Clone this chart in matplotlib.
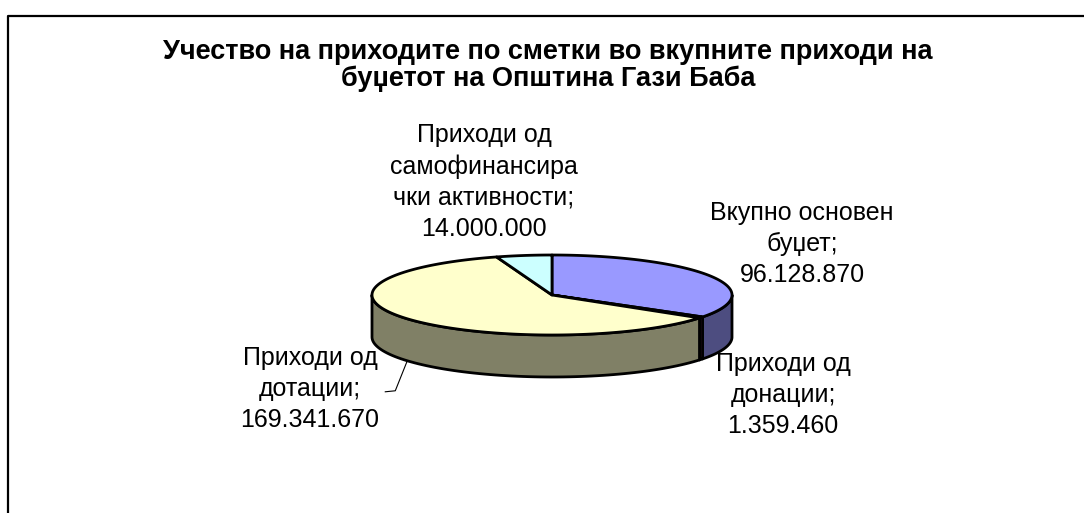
import numpy as np
import matplotlib
matplotlib.use("Agg")
import matplotlib.pyplot as plt
from matplotlib.patches import Polygon
from matplotlib.lines import Line2D

# ---- data ----
categories = ["Вкупно основен\nбуџет", "Приходи од\nдонации", "Приходи од\nдотации",
              "Приходи од\nсамофинансира\nчки активности"]
values = [96128870, 1359460, 169341670, 14000000]
value_labels = ["96.128.870", "1.359.460", "169.341.670", "14.000.000"]
colors = ["#9999FF", "#993366", "#FFFFCC", "#CCFFFF"]
title_lines = ["Учество на приходите по сметки во вкупните приходи на",
               "буџетот на Општина Гази Баба"]

# ---- geometry / style ----
W, H = 1084, 513
cx, cy, a, b, depth = 552, 295, 180, 40, 42
font = "Liberation Sans"
LW = 2.0

fig = plt.figure(figsize=(W / 100, H / 100), dpi=100)
ax = fig.add_axes([0, 0, 1, 1])
ax.set_xlim(0, W)
ax.set_ylim(H, 0)
ax.axis("off")

# frame
ax.add_line(Line2D([8, 8, W + 5], [H + 5, 16, 16], color="black", lw=1.6))


def pt(phi_deg, dz=0.0):
    p = np.radians(phi_deg)
    return cx + a * np.sin(p), cy - b * np.cos(p) + dz


def darker(c, f=0.5):
    r, g, bb = matplotlib.colors.to_rgb(c)
    return (r * f, g * f, bb * f)


total = float(sum(values))
angles = np.cumsum([0.0] + [v / total * 360.0 for v in values])

# side walls (front half 90..270)
for i in range(len(values)):
    s, e = angles[i], angles[i + 1]
    lo, hi = max(s, 90), min(e, 270)
    if hi <= lo:
        continue
    ph = np.linspace(lo, hi, 80)
    top = [pt(p) for p in ph]
    bot = [pt(p, depth) for p in ph[::-1]]
    ax.add_patch(Polygon(top + bot, closed=True, facecolor=darker(colors[i]),
                         edgecolor="black", lw=LW, joinstyle="round"))

# top faces
for i in range(len(values)):
    s, e = angles[i], angles[i + 1]
    ph = np.linspace(s, e, max(int((e - s) * 2), 4))
    poly = [(cx, cy)] + [pt(p) for p in ph]
    ax.add_patch(Polygon(poly, closed=True, facecolor=colors[i],
                         edgecolor="black", lw=LW, joinstyle="round"))

# labels
lab_pos = [(802, 244), (783, 395), (310, 389), (484, 182)]
for i in range(len(values)):
    txt = categories[i] + ";\n" + value_labels[i]
    ax.text(lab_pos[i][0], lab_pos[i][1], txt, ha="center", va="center",
            fontsize=18, family=font, linespacing=1.36, color="black")

# leader line for the large slice
mid = (angles[2] + angles[3]) / 2
x0, y0 = pt(mid, depth)
ax.add_line(Line2D([x0, x0 - 12, x0 - 22], [y0, y0 + 30, y0 + 31], color="black", lw=0.8))

ax.text(548, 52, title_lines[0], ha="center", va="center", fontsize=19.5,
        fontweight="bold", family=font)
ax.text(548, 79, title_lines[1], ha="center", va="center", fontsize=19.5,
        fontweight="bold", family=font)

fig.savefig("out.png", dpi=100)
